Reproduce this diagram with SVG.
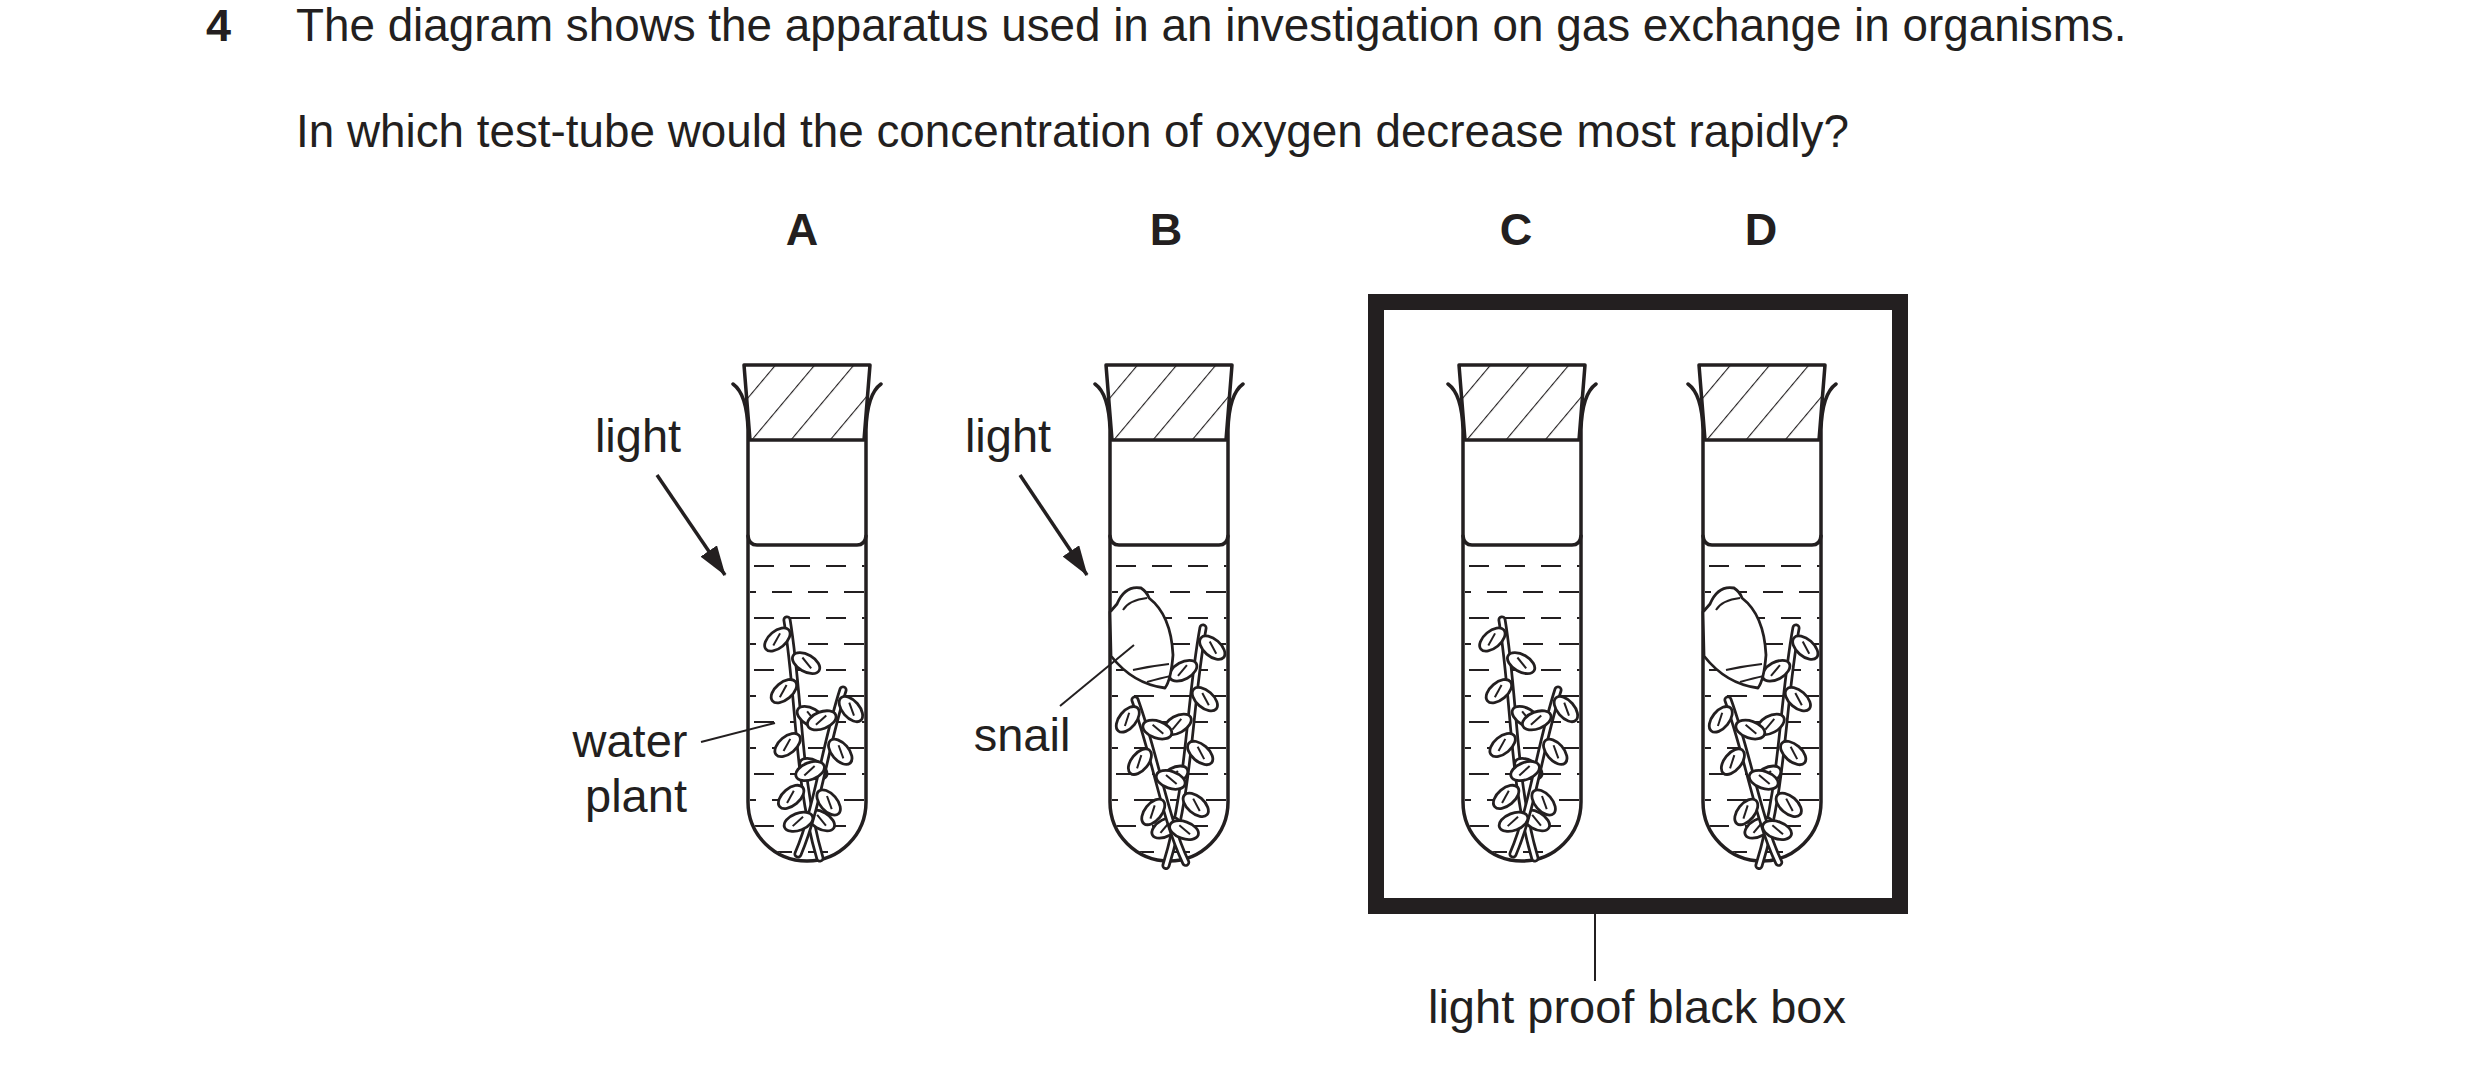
<svg xmlns="http://www.w3.org/2000/svg" xmlns:xlink="http://www.w3.org/1999/xlink" width="2480" height="1073" viewBox="0 0 2480 1073">
<style>
text{font-family:"Liberation Sans",Arial,sans-serif;fill:#231f20}
.q{font-size:45.8px}
.b{font-weight:bold;font-size:45px}
.lab{font-size:47px;text-anchor:middle}
.ln{fill:none;stroke:#231f20;stroke-width:3.5;stroke-linecap:round}
.thin{fill:none;stroke:#231f20;stroke-width:2}
.dash{stroke:#231f20;stroke-width:2.2}
.leaf{fill:#fff;stroke:#231f20;stroke-width:2.8}
</style>
<defs>
<pattern id="hatch" patternUnits="userSpaceOnUse" width="30" height="30" patternTransform="rotate(40)">
<line x1="0" y1="0" x2="0" y2="30" stroke="#231f20" stroke-width="2.2"/>
</pattern>
<marker id="ahb" viewBox="0 0 30 20" refX="29" refY="10" markerWidth="30" markerHeight="20" orient="auto" markerUnits="userSpaceOnUse">
<path d="M0,0 L30,10 L0,20 Z" fill="#231f20"/>
</marker>
<clipPath id="inner"><path d="M-57.5,548 L-57.5,802 A57.5 57.5 0 0 0 57.5 802 L57.5,548 Z"/></clipPath>
<g id="leafL"><ellipse cx="-15" cy="0" rx="15" ry="8.5" transform="rotate(-35)" class="leaf"/><line x1="-22" y1="2" x2="-9" y2="-3" class="thin" transform="rotate(-35)"/></g>
<g id="leafR"><ellipse cx="15" cy="0" rx="15" ry="8.5" transform="rotate(35)" class="leaf"/><line x1="22" y1="2" x2="9" y2="-3" class="thin" transform="rotate(35)"/></g>
<g id="tallbranch">
<path d="M0,0 C6,80 -4,160 12,240" fill="none" stroke="#231f20" stroke-width="9" stroke-linecap="round"/>
<path d="M0,0 C6,80 -4,160 12,240" fill="none" stroke="#fff" stroke-width="3.5" stroke-linecap="round"/>
<use href="#leafL" x="1" y="10"/><use href="#leafR" x="3" y="36"/>
<use href="#leafL" x="3" y="62"/><use href="#leafR" x="3" y="90"/>
<use href="#leafL" x="2" y="116"/><use href="#leafR" x="1" y="142"/>
<use href="#leafL" x="1" y="168"/><use href="#leafR" x="4" y="194"/>
</g>
<g id="shortbranch">
<path d="M0,0 C-4,60 4,120 -4,170" fill="none" stroke="#231f20" stroke-width="9" stroke-linecap="round"/>
<path d="M0,0 C-4,60 4,120 -4,170" fill="none" stroke="#fff" stroke-width="3.5" stroke-linecap="round"/>
<use href="#leafR" x="0" y="8"/><use href="#leafL" x="-1" y="26"/>
<use href="#leafR" x="0" y="52"/><use href="#leafL" x="0" y="78"/>
<use href="#leafR" x="1" y="104"/><use href="#leafL" x="1" y="130"/>
</g>
<g id="tube">
<g clip-path="url(#inner)">
<line x1="-57" y1="566" x2="60" y2="566" class="dash" stroke-dasharray="20 16" stroke-dashoffset="-4"/>
<line x1="-57" y1="592" x2="60" y2="592" class="dash" stroke-dasharray="20 16" stroke-dashoffset="14"/>
<line x1="-57" y1="618" x2="60" y2="618" class="dash" stroke-dasharray="20 16" stroke-dashoffset="-4"/>
<line x1="-57" y1="644" x2="60" y2="644" class="dash" stroke-dasharray="20 16" stroke-dashoffset="14"/>
<line x1="-57" y1="670" x2="60" y2="670" class="dash" stroke-dasharray="20 16" stroke-dashoffset="-4"/>
<line x1="-57" y1="696" x2="60" y2="696" class="dash" stroke-dasharray="20 16" stroke-dashoffset="14"/>
<line x1="-57" y1="722" x2="60" y2="722" class="dash" stroke-dasharray="20 16" stroke-dashoffset="-4"/>
<line x1="-57" y1="748" x2="60" y2="748" class="dash" stroke-dasharray="20 16" stroke-dashoffset="14"/>
<line x1="-57" y1="774" x2="60" y2="774" class="dash" stroke-dasharray="20 16" stroke-dashoffset="-4"/>
<line x1="-57" y1="800" x2="60" y2="800" class="dash" stroke-dasharray="20 16" stroke-dashoffset="14"/>
<line x1="-57" y1="826" x2="60" y2="826" class="dash" stroke-dasharray="20 16" stroke-dashoffset="-4"/>
<line x1="-57" y1="852" x2="60" y2="852" class="dash" stroke-dasharray="20 16" stroke-dashoffset="14"/>
</g>
<path d="M-74,384 Q-60,394 -59,430 L-59,802 A59 59 0 0 0 59 802 L59,430 Q60,394 74,384" class="ln"/>
<path d="M-63,365 L63,365 L57,440 L-57,440 Z" fill="url(#hatch)" stroke="#231f20" stroke-width="3.5" stroke-linejoin="round"/>
<path d="M-59,536 Q-58,545 -50,545 L50,545 Q58,545 59,536" class="ln"/>
</g>
<g id="plantsA">
<use href="#tallbranch" transform="translate(-20,620) rotate(-5)"/>
<use href="#shortbranch" transform="translate(36,690) rotate(14)"/>
</g>
<g id="plantsB">
<use href="#tallbranch" transform="translate(34,628) rotate(6) scale(-1,1)"/>
<use href="#shortbranch" transform="translate(-34,700) rotate(-16) scale(-1,1)"/>
</g>
<g id="snail">
<path d="M-52,604 Q-44,585 -28,588 Q-22,592 -20,598 Q2,615 4,655 Q2,680 -4,688 Q-36,684 -58,656 L-59,612 Z" fill="#fff" stroke="#231f20" stroke-width="2.8" stroke-linejoin="round"/>
<path d="M-46,610 Q-40,600 -22,598" class="thin"/>
<path d="M-36,670 Q-18,666 0,664" class="thin"/>
<path d="M-22,682 Q-8,678 2,676" class="thin"/>
</g>
</defs>

<g id="question">
<text x="206" y="41" class="b">4</text>
<text x="296" y="41" class="q">The diagram shows the apparatus used in an investigation on gas exchange in organisms.</text>
<text x="296" y="147" class="q">In which test-tube would the concentration of oxygen decrease most rapidly?</text>
</g>

<g id="tubeA">
<text x="802" y="245" class="b" text-anchor="middle">A</text>
<g transform="translate(807,0)"><use href="#tube"/><use href="#plantsA"/></g>
</g>
<g id="tubeB">
<text x="1166" y="245" class="b" text-anchor="middle">B</text>
<g transform="translate(1169,0)"><use href="#tube"/><use href="#plantsB"/><use href="#snail"/></g>
</g>
<g id="box">
<rect x="1376" y="302" width="524" height="604" fill="none" stroke="#231f20" stroke-width="16"/>
</g>
<g id="tubeC">
<text x="1516" y="245" class="b" text-anchor="middle">C</text>
<g transform="translate(1522,0)"><use href="#tube"/><use href="#plantsA"/></g>
</g>
<g id="tubeD">
<text x="1761" y="245" class="b" text-anchor="middle">D</text>
<g transform="translate(1762,0)"><use href="#tube"/><use href="#plantsB"/><use href="#snail"/></g>
</g>

<g id="labels">
<text x="638" y="452" class="lab">light</text>
<text x="1008" y="452" class="lab">light</text>
<text x="630" y="757" class="lab">water</text>
<text x="636" y="812" class="lab">plant</text>
<text x="1022" y="751" class="lab">snail</text>
<text x="1637" y="1023" class="lab">light proof black box</text>
</g>

<g id="connectors">
<line x1="657" y1="475" x2="725" y2="575" stroke="#231f20" stroke-width="3.5" marker-end="url(#ahb)"/>
<line x1="1020" y1="475" x2="1087" y2="575" stroke="#231f20" stroke-width="3.5" marker-end="url(#ahb)"/>
<line x1="701" y1="742" x2="775" y2="723" class="thin"/>
<line x1="1060" y1="706" x2="1134" y2="645" class="thin"/>
<line x1="1595" y1="914" x2="1595" y2="981" class="thin"/>
</g>
</svg>
